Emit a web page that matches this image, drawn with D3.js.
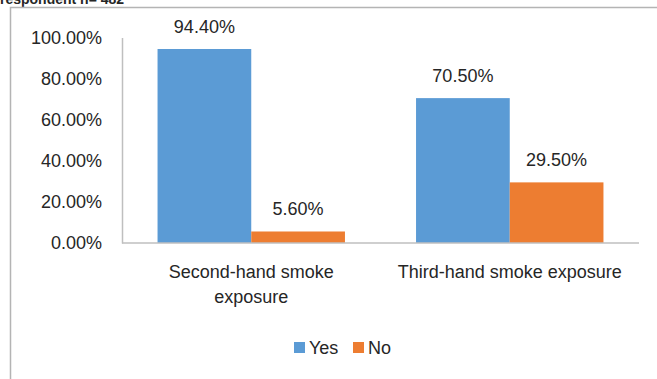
<!DOCTYPE html>
<html>
<head>
<meta charset="utf-8">
<script src="https://cdn.jsdelivr.net/npm/d3@7"></script>
<style>
  html, body { margin: 0; padding: 0; background: #fff; }
  svg { display: block; }
  text { font-family: "Liberation Sans", "DejaVu Sans", sans-serif; fill: #262626; }
</style>
</head>
<body>
<svg id="chart" width="657" height="379"></svg>
<script>
// Smoke exposure among respondents
const categories = [["Second-hand smoke", "exposure"], ["Third-hand smoke exposure"]];
const seriesNames = ["Yes", "No"];
const yesValues = [94.4, 70.5];
const noValues = [5.6, 29.5];
const yTicks = [0, 20, 40, 60, 80, 100];
const colors = ["#5B9BD5", "#ED7D31"];

const svg = d3.select("#chart");
const W = 657, H = 379;

// heading above the chart frame (runs into the top edge of the page)
svg.append("text")
  .attr("x", 0).attr("y", 4)
  .style("font-weight", "bold").style("font-size", "14px")
  .text("respondent n= 482");

// chart frame
svg.append("path")
  .attr("d", `M10.5,${H} V7.5 H${W}`)
  .attr("fill", "none").attr("stroke", "#b4b4b4").attr("stroke-width", 1.5);

const plot = { left: 122, right: 639, top: 37.5, bottom: 243 };

const y = d3.scaleLinear().domain([0, 100]).range([plot.bottom, plot.top]);
const x0 = d3.scaleBand().domain(d3.range(categories.length))
  .range([plot.left, plot.right]).paddingInner(0.275).paddingOuter(0.1375);
const x1 = d3.scaleBand().domain(d3.range(seriesNames.length))
  .range([0, x0.bandwidth()]);

const fmt = v => v.toFixed(2) + "%";

// y axis labels and line
const yAxis = d3.axisLeft(y).tickValues(yTicks).tickFormat(fmt).tickSize(0).tickPadding(20);
const gy = svg.append("g").attr("transform", `translate(${plot.left},0)`).call(yAxis);
gy.select(".domain").attr("stroke", "#bfbfbf").attr("stroke-width", 1.5);
gy.selectAll("text").style("font-size", "18px").style("font-family", "'Liberation Sans', sans-serif").attr("fill", "#262626");

// bars
const rows = categories.map((c, i) => [yesValues[i], noValues[i]]);
const groups = svg.append("g").selectAll("g").data(rows).join("g")
  .attr("transform", (d, i) => `translate(${x0(i)},0)`);

groups.selectAll("rect").data(d => d).join("rect")
  .attr("x", (d, j) => x1(j))
  .attr("width", x1.bandwidth())
  .attr("y", d => y(d))
  .attr("height", d => y(0) - y(d))
  .attr("fill", (d, j) => colors[j]);

groups.selectAll("text.val").data(d => d).join("text")
  .attr("class", "val")
  .attr("x", (d, j) => x1(j) + x1.bandwidth() / 2)
  .attr("y", d => y(d) - 16)
  .attr("text-anchor", "middle")
  .style("font-size", "18px")
  .text(d => fmt(d));

// x axis baseline
svg.append("line")
  .attr("x1", plot.left).attr("x2", plot.right)
  .attr("y1", y(0)).attr("y2", y(0))
  .attr("stroke", "#bfbfbf").attr("stroke-width", 1.5);

// category labels
const catLabels = svg.append("g").selectAll("text").data(categories).join("text")
  .attr("text-anchor", "middle")
  .attr("x", (d, i) => x0(i) + x0.bandwidth() / 2)
  .attr("y", 278)
  .style("font-size", "18px");
catLabels.selectAll("tspan").data(d => d).join("tspan")
  .attr("x", function () { return this.parentNode.getAttribute("x"); })
  .attr("dy", (d, k) => k === 0 ? 0 : 25)
  .text(d => d);

// legend
const legend = svg.append("g");
const legendX = [294, 353];
seriesNames.forEach((name, i) => {
  legend.append("rect")
    .attr("x", legendX[i]).attr("y", 342).attr("width", 11).attr("height", 11)
    .attr("fill", colors[i]);
  legend.append("text")
    .attr("x", legendX[i] + 15).attr("y", 354)
    .style("font-size", "18px")
    .text(name);
});
</script>
</body>
</html>
